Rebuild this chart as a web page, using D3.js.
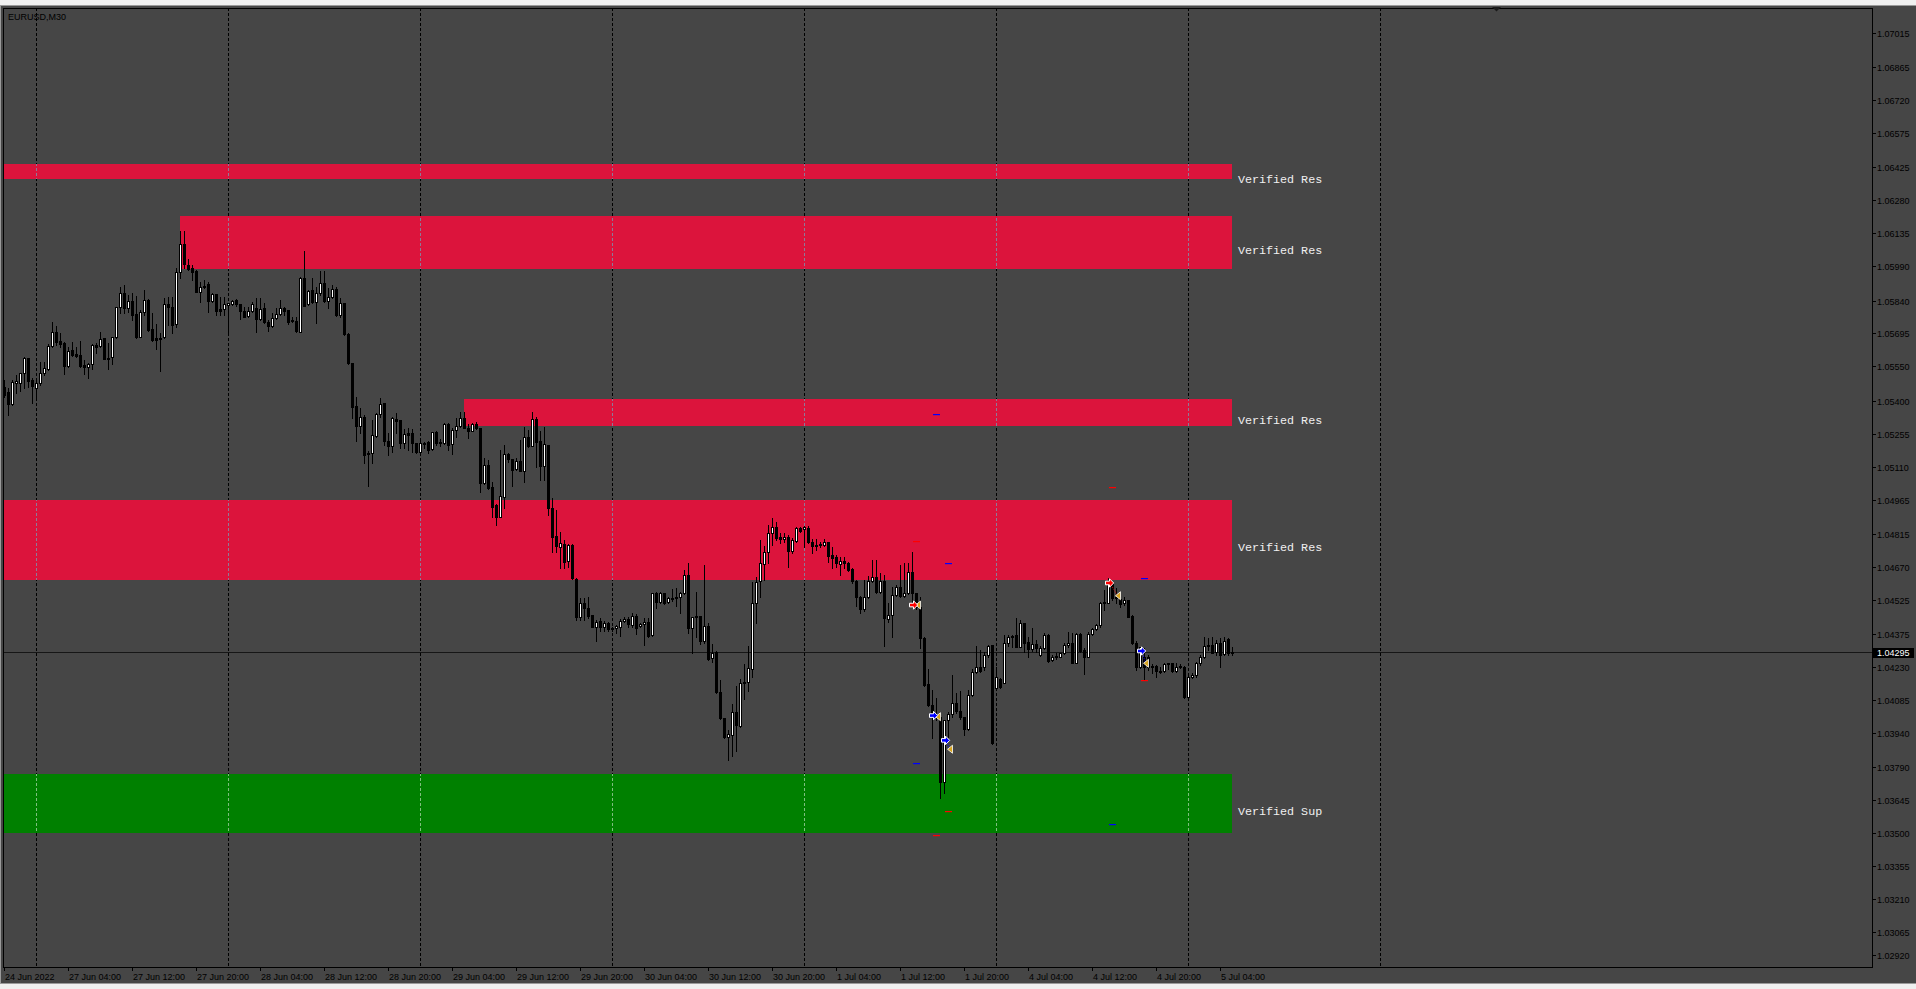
<!DOCTYPE html>
<html>
<head>
<meta charset="utf-8">
<script src="https://cdn.jsdelivr.net/npm/d3@7"></script>
<style>
  body { margin: 0; background: #f0f0f0; overflow: hidden; }
</style>
</head>
<body>
<div id="chart"></div>
<script>
// EURUSD M30 candles, 24 Jun 2022 20:00 -> 5 Jul 2022 05:30 (one value per bar)
const opens = [
  1.05461, 1.05439, 1.05385, 1.05479, 1.05479, 1.05523, 1.05586, 1.05491, 1.05454, 1.05476,
  1.05520, 1.05539, 1.05641, 1.05700, 1.05662, 1.05652, 1.05554, 1.05622, 1.05605, 1.05600,
  1.05556, 1.05546, 1.05559, 1.05644, 1.05641, 1.05677, 1.05587, 1.05590, 1.05678, 1.05810,
  1.05872, 1.05806, 1.05838, 1.05779, 1.05681, 1.05791, 1.05842, 1.05715, 1.05677, 1.05677,
  1.05678, 1.05823, 1.05810, 1.05735, 1.05964, 1.06089, 1.05996, 1.05982, 1.05970, 1.05879,
  1.05898, 1.05911, 1.05839, 1.05867, 1.05803, 1.05801, 1.05820, 1.05823, 1.05842, 1.05823,
  1.05794, 1.05772, 1.05794, 1.05806, 1.05757, 1.05806, 1.05747, 1.05729, 1.05762, 1.05781,
  1.05806, 1.05798, 1.05754, 1.05750, 1.05703, 1.05938, 1.05823, 1.05886, 1.05835, 1.05872,
  1.05916, 1.05839, 1.05857, 1.05889, 1.05776, 1.05828, 1.05691, 1.05564, 1.05376, 1.05290,
  1.05329, 1.05171, 1.05168, 1.05246, 1.05340, 1.05391, 1.05222, 1.05202, 1.05319, 1.05315,
  1.05215, 1.05259, 1.05256, 1.05212, 1.05172, 1.05208, 1.05219, 1.05186, 1.05260, 1.05215,
  1.05215, 1.05296, 1.05208, 1.05271, 1.05290, 1.05322, 1.05281, 1.05268, 1.05296, 1.05278,
  1.05039, 1.05117, 1.05019, 1.04941, 1.04889, 1.04977, 1.05165, 1.05145, 1.05098, 1.05134,
  1.05092, 1.05238, 1.05202, 1.05318, 1.05222, 1.05114, 1.05204, 1.04926, 1.04805, 1.04758,
  1.04768, 1.04696, 1.04765, 1.04614, 1.04450, 1.04508, 1.04486, 1.04457, 1.04406, 1.04431,
  1.04403, 1.04421, 1.04400, 1.04399, 1.04403, 1.04431, 1.04440, 1.04413, 1.04453, 1.04409,
  1.04416, 1.04425, 1.04369, 1.04552, 1.04516, 1.04552, 1.04513, 1.04534, 1.04530, 1.04535,
  1.04552, 1.04633, 1.04399, 1.04453, 1.04453, 1.04344, 1.04409, 1.04267, 1.04293, 1.04120,
  1.04003, 1.03922, 1.03930, 1.04032, 1.03971, 1.04157, 1.04164, 1.04220, 1.04508, 1.04608,
  1.04681, 1.04733, 1.04819, 1.04846, 1.04799, 1.04791, 1.04802, 1.04739, 1.04784, 1.04838,
  1.04834, 1.04838, 1.04780, 1.04765, 1.04764, 1.04765, 1.04777, 1.04721, 1.04711, 1.04680,
  1.04695, 1.04684, 1.04660, 1.04608, 1.04538, 1.04482, 1.04535, 1.04608, 1.04626, 1.04560,
  1.04608, 1.04440, 1.04457, 1.04545, 1.04582, 1.04541, 1.04553, 1.04648, 1.04553, 1.04494,
  1.04355, 1.04152, 1.04062, 1.04018, 1.04010, 1.03724, 1.03996, 1.04022, 1.04069, 1.04037,
  1.04007, 1.03955, 1.04105, 1.04208, 1.04230, 1.04230, 1.04281, 1.04325, 1.04135, 1.04174,
  1.04160, 1.04333, 1.04359, 1.04369, 1.04318, 1.04421, 1.04340, 1.04306, 1.04328, 1.04281,
  1.04311, 1.04369, 1.04259, 1.04274, 1.04274, 1.04289, 1.04325, 1.04333, 1.04248, 1.04374,
  1.04303, 1.04274, 1.04374, 1.04394, 1.04413, 1.04512, 1.04512, 1.04597, 1.04531, 1.04526,
  1.04509, 1.04523, 1.04453, 1.04333, 1.04230, 1.04271, 1.04274, 1.04234, 1.04234, 1.04213,
  1.04213, 1.04240, 1.04245, 1.04213, 1.04230, 1.04230, 1.04098, 1.04186, 1.04193, 1.04245,
  1.04271, 1.04322, 1.04325, 1.04296, 1.04333, 1.04284, 1.04352, 1.04292
];
const highs = [
  1.05491, 1.05454, 1.05491, 1.05513, 1.05523, 1.05590, 1.05586, 1.05498, 1.05491, 1.05571,
  1.05571, 1.05649, 1.05744, 1.05729, 1.05696, 1.05659, 1.05637, 1.05656, 1.05637, 1.05662,
  1.05578, 1.05564, 1.05649, 1.05652, 1.05700, 1.05677, 1.05652, 1.05681, 1.05810, 1.05901,
  1.05908, 1.05864, 1.05872, 1.05861, 1.05798, 1.05886, 1.05847, 1.05784, 1.05735, 1.05696,
  1.05853, 1.05857, 1.05857, 1.05982, 1.06146, 1.06146, 1.06021, 1.05996, 1.05974, 1.05920,
  1.05930, 1.05923, 1.05872, 1.05867, 1.05857, 1.05857, 1.05828, 1.05842, 1.05847, 1.05823,
  1.05813, 1.05813, 1.05835, 1.05853, 1.05850, 1.05828, 1.05754, 1.05784, 1.05806, 1.05842,
  1.05810, 1.05798, 1.05766, 1.05769, 1.05945, 1.06058, 1.05886, 1.05941, 1.05898, 1.05971,
  1.05971, 1.05894, 1.05908, 1.05898, 1.05850, 1.05831, 1.05696, 1.05567, 1.05417, 1.05366,
  1.05337, 1.05180, 1.05315, 1.05347, 1.05410, 1.05391, 1.05256, 1.05326, 1.05344, 1.05315,
  1.05274, 1.05278, 1.05274, 1.05212, 1.05222, 1.05219, 1.05224, 1.05263, 1.05268, 1.05229,
  1.05303, 1.05300, 1.05281, 1.05322, 1.05351, 1.05351, 1.05296, 1.05303, 1.05307, 1.05281,
  1.05146, 1.05139, 1.05043, 1.04944, 1.05183, 1.05204, 1.05171, 1.05145, 1.05146, 1.05227,
  1.05285, 1.05271, 1.05351, 1.05329, 1.05266, 1.05285, 1.05204, 1.04970, 1.04919, 1.04824,
  1.04787, 1.04769, 1.04769, 1.04618, 1.04530, 1.04530, 1.04535, 1.04457, 1.04435, 1.04442,
  1.04431, 1.04428, 1.04406, 1.04413, 1.04438, 1.04450, 1.04450, 1.04465, 1.04462, 1.04423,
  1.04442, 1.04442, 1.04555, 1.04560, 1.04560, 1.04555, 1.04535, 1.04570, 1.04574, 1.04560,
  1.04655, 1.04684, 1.04450, 1.04560, 1.04453, 1.04676, 1.04423, 1.04330, 1.04300, 1.04171,
  1.04003, 1.03952, 1.04064, 1.04145, 1.04174, 1.04242, 1.04321, 1.04604, 1.04626, 1.04787,
  1.04761, 1.04853, 1.04882, 1.04868, 1.04819, 1.04816, 1.04809, 1.04794, 1.04843, 1.04843,
  1.04849, 1.04849, 1.04790, 1.04790, 1.04780, 1.04790, 1.04780, 1.04758, 1.04721, 1.04714,
  1.04714, 1.04692, 1.04662, 1.04611, 1.04541, 1.04611, 1.04629, 1.04699, 1.04699, 1.04640,
  1.04633, 1.04509, 1.04582, 1.04589, 1.04677, 1.04684, 1.04684, 1.04736, 1.04555, 1.04538,
  1.04359, 1.04218, 1.04127, 1.04091, 1.04018, 1.03996, 1.04032, 1.04193, 1.04113, 1.04125,
  1.04007, 1.04127, 1.04218, 1.04321, 1.04303, 1.04296, 1.04325, 1.04325, 1.04230, 1.04179,
  1.04369, 1.04369, 1.04369, 1.04443, 1.04435, 1.04424, 1.04359, 1.04399, 1.04347, 1.04321,
  1.04377, 1.04374, 1.04281, 1.04289, 1.04292, 1.04333, 1.04384, 1.04377, 1.04377, 1.04377,
  1.04311, 1.04384, 1.04399, 1.04418, 1.04516, 1.04567, 1.04619, 1.04597, 1.04575, 1.04538,
  1.04538, 1.04523, 1.04457, 1.04344, 1.04318, 1.04311, 1.04281, 1.04242, 1.04237, 1.04230,
  1.04245, 1.04248, 1.04248, 1.04245, 1.04242, 1.04233, 1.04193, 1.04204, 1.04252, 1.04281,
  1.04362, 1.04355, 1.04359, 1.04347, 1.04355, 1.04359, 1.04355, 1.04318
];
const lows = [
  1.05417, 1.05337, 1.05381, 1.05432, 1.05444, 1.05454, 1.05461, 1.05391, 1.05403, 1.05469,
  1.05513, 1.05534, 1.05637, 1.05644, 1.05637, 1.05517, 1.05549, 1.05598, 1.05593, 1.05549,
  1.05517, 1.05498, 1.05539, 1.05608, 1.05637, 1.05581, 1.05539, 1.05559, 1.05674, 1.05784,
  1.05784, 1.05791, 1.05754, 1.05674, 1.05678, 1.05776, 1.05707, 1.05663, 1.05627, 1.05532,
  1.05674, 1.05732, 1.05696, 1.05725, 1.05938, 1.05984, 1.05974, 1.05930, 1.05876, 1.05835,
  1.05894, 1.05791, 1.05835, 1.05776, 1.05776, 1.05776, 1.05691, 1.05820, 1.05816, 1.05759,
  1.05766, 1.05769, 1.05791, 1.05700, 1.05754, 1.05740, 1.05707, 1.05725, 1.05759, 1.05776,
  1.05776, 1.05737, 1.05747, 1.05702, 1.05700, 1.05816, 1.05820, 1.05828, 1.05740, 1.05864,
  1.05835, 1.05806, 1.05850, 1.05773, 1.05769, 1.05688, 1.05561, 1.05322, 1.05224, 1.05256,
  1.05124, 1.05024, 1.05127, 1.05241, 1.05329, 1.05204, 1.05161, 1.05175, 1.05256, 1.05190,
  1.05190, 1.05183, 1.05175, 1.05171, 1.05168, 1.05190, 1.05171, 1.05183, 1.05204, 1.05200,
  1.05208, 1.05183, 1.05165, 1.05241, 1.05285, 1.05278, 1.05237, 1.05266, 1.05274, 1.04999,
  1.05033, 1.05011, 1.04889, 1.04853, 1.04887, 1.04926, 1.05131, 1.05024, 1.05095, 1.05092,
  1.05043, 1.05197, 1.05200, 1.05109, 1.05051, 1.05051, 1.04897, 1.04735, 1.04735, 1.04662,
  1.04662, 1.04667, 1.04614, 1.04435, 1.04435, 1.04435, 1.04445, 1.04403, 1.04344, 1.04388,
  1.04388, 1.04388, 1.04388, 1.04379, 1.04365, 1.04428, 1.04403, 1.04403, 1.04374, 1.04406,
  1.04325, 1.04362, 1.04366, 1.04486, 1.04508, 1.04506, 1.04508, 1.04520, 1.04497, 1.04467,
  1.04549, 1.04379, 1.04292, 1.04362, 1.04330, 1.04333, 1.04260, 1.04252, 1.04116, 1.03998,
  1.03915, 1.03819, 1.03837, 1.03861, 1.03966, 1.04089, 1.04124, 1.04186, 1.04424, 1.04535,
  1.04611, 1.04687, 1.04765, 1.04787, 1.04775, 1.04780, 1.04670, 1.04728, 1.04780, 1.04824,
  1.04755, 1.04775, 1.04731, 1.04743, 1.04758, 1.04761, 1.04692, 1.04662, 1.04667, 1.04633,
  1.04662, 1.04652, 1.04599, 1.04497, 1.04468, 1.04476, 1.04530, 1.04604, 1.04555, 1.04555,
  1.04321, 1.04428, 1.04362, 1.04541, 1.04538, 1.04538, 1.04550, 1.04509, 1.04482, 1.04311,
  1.04147, 1.04059, 1.03915, 1.03996, 1.03651, 1.03676, 1.03922, 1.04010, 1.04025, 1.03999,
  1.03930, 1.03952, 1.04101, 1.04201, 1.04208, 1.04215, 1.04274, 1.03890, 1.04130, 1.04135,
  1.04157, 1.04321, 1.04318, 1.04315, 1.04315, 1.04296, 1.04274, 1.04300, 1.04296, 1.04277,
  1.04306, 1.04252, 1.04255, 1.04262, 1.04271, 1.04284, 1.04318, 1.04245, 1.04245, 1.04296,
  1.04198, 1.04271, 1.04369, 1.04391, 1.04406, 1.04479, 1.04509, 1.04523, 1.04509, 1.04494,
  1.04501, 1.04447, 1.04330, 1.04215, 1.04223, 1.04174, 1.04215, 1.04201, 1.04186, 1.04204,
  1.04208, 1.04218, 1.04208, 1.04208, 1.04223, 1.04091, 1.04095, 1.04179, 1.04183, 1.04237,
  1.04267, 1.04303, 1.04289, 1.04281, 1.04230, 1.04281, 1.04281, 1.04281
];
const closes = [
  1.05425, 1.05385, 1.05483, 1.05486, 1.05523, 1.05586, 1.05488, 1.05464, 1.05479, 1.05520,
  1.05542, 1.05641, 1.05700, 1.05659, 1.05649, 1.05554, 1.05619, 1.05600, 1.05596, 1.05554,
  1.05549, 1.05559, 1.05644, 1.05637, 1.05669, 1.05583, 1.05581, 1.05678, 1.05810, 1.05872,
  1.05806, 1.05838, 1.05776, 1.05681, 1.05791, 1.05842, 1.05710, 1.05666, 1.05666, 1.05669,
  1.05823, 1.05810, 1.05732, 1.05964, 1.06087, 1.05999, 1.05979, 1.05967, 1.05879, 1.05898,
  1.05905, 1.05838, 1.05867, 1.05795, 1.05795, 1.05823, 1.05828, 1.05838, 1.05823, 1.05794,
  1.05769, 1.05794, 1.05823, 1.05757, 1.05803, 1.05744, 1.05729, 1.05762, 1.05781, 1.05806,
  1.05794, 1.05747, 1.05750, 1.05706, 1.05941, 1.05816, 1.05882, 1.05835, 1.05872, 1.05916,
  1.05839, 1.05857, 1.05889, 1.05776, 1.05828, 1.05691, 1.05564, 1.05373, 1.05288, 1.05329,
  1.05161, 1.05165, 1.05249, 1.05340, 1.05385, 1.05222, 1.05202, 1.05322, 1.05312, 1.05215,
  1.05253, 1.05249, 1.05212, 1.05175, 1.05212, 1.05212, 1.05183, 1.05260, 1.05212, 1.05219,
  1.05296, 1.05204, 1.05271, 1.05290, 1.05322, 1.05281, 1.05268, 1.05296, 1.05278, 1.05036,
  1.05117, 1.05014, 1.04933, 1.04887, 1.04980, 1.05165, 1.05143, 1.05095, 1.05134, 1.05092,
  1.05238, 1.05202, 1.05318, 1.05219, 1.05112, 1.05208, 1.04926, 1.04802, 1.04762, 1.04772,
  1.04692, 1.04765, 1.04618, 1.04450, 1.04508, 1.04486, 1.04453, 1.04406, 1.04428, 1.04403,
  1.04421, 1.04396, 1.04394, 1.04409, 1.04431, 1.04440, 1.04416, 1.04453, 1.04401, 1.04416,
  1.04425, 1.04366, 1.04552, 1.04516, 1.04552, 1.04508, 1.04530, 1.04528, 1.04535, 1.04552,
  1.04633, 1.04402, 1.04447, 1.04447, 1.04344, 1.04409, 1.04264, 1.04289, 1.04120, 1.04003,
  1.03922, 1.03934, 1.04032, 1.03973, 1.04157, 1.04164, 1.04223, 1.04508, 1.04604, 1.04684,
  1.04733, 1.04819, 1.04846, 1.04797, 1.04791, 1.04802, 1.04739, 1.04787, 1.04838, 1.04828,
  1.04846, 1.04780, 1.04761, 1.04762, 1.04768, 1.04777, 1.04718, 1.04709, 1.04684, 1.04695,
  1.04684, 1.04655, 1.04608, 1.04538, 1.04482, 1.04535, 1.04608, 1.04626, 1.04560, 1.04608,
  1.04443, 1.04457, 1.04545, 1.04582, 1.04541, 1.04553, 1.04648, 1.04553, 1.04494, 1.04355,
  1.04149, 1.04062, 1.04018, 1.04010, 1.03724, 1.03996, 1.04022, 1.04069, 1.04037, 1.04007,
  1.03955, 1.04105, 1.04208, 1.04230, 1.04213, 1.04281, 1.04321, 1.03893, 1.04183, 1.04142,
  1.04333, 1.04362, 1.04366, 1.04318, 1.04421, 1.04336, 1.04306, 1.04328, 1.04314, 1.04311,
  1.04369, 1.04256, 1.04274, 1.04278, 1.04289, 1.04325, 1.04333, 1.04248, 1.04374, 1.04300,
  1.04274, 1.04374, 1.04394, 1.04413, 1.04512, 1.04516, 1.04597, 1.04531, 1.04538, 1.04506,
  1.04523, 1.04450, 1.04333, 1.04230, 1.04315, 1.04230, 1.04230, 1.04227, 1.04213, 1.04208,
  1.04240, 1.04245, 1.04213, 1.04230, 1.04233, 1.04095, 1.04186, 1.04193, 1.04245, 1.04271,
  1.04322, 1.04325, 1.04292, 1.04333, 1.04281, 1.04344, 1.04289, 1.04295
];

// time axis labels and the bar they sit on
const timeLabels = ["24 Jun 2022", "27 Jun 04:00", "27 Jun 12:00", "27 Jun 20:00", "28 Jun 04:00",
  "28 Jun 12:00", "28 Jun 20:00", "29 Jun 04:00", "29 Jun 12:00", "29 Jun 20:00", "30 Jun 04:00",
  "30 Jun 12:00", "30 Jun 20:00", "1 Jul 04:00", "1 Jul 12:00", "1 Jul 20:00", "4 Jul 04:00",
  "4 Jul 12:00", "4 Jul 20:00", "5 Jul 04:00"];
const timeLabelBars = [0, 16, 32, 48, 64, 80, 96, 112, 128, 144, 160, 176, 192, 208, 224, 240, 256, 272, 288, 304];
// day separators (00:00 bars), last one is in the empty right part
const gridBars = [8, 56, 104, 152, 200, 248, 296, 344];

// price axis labels
const priceLabels = [1.07015, 1.06865, 1.06720, 1.06575, 1.06425, 1.06280, 1.06135, 1.05990, 1.05840,
  1.05695, 1.05550, 1.05400, 1.05255, 1.05110, 1.04965, 1.04815, 1.04670, 1.04525, 1.04375, 1.04230,
  1.04085, 1.03940, 1.03790, 1.03645, 1.03500, 1.03355, 1.03210, 1.03065, 1.02920];
const priceMin = 1.029095, priceMax = 1.071262;
const barsOnScreen = 467;

// supply / demand zones
const zoneNames = ["Verified Res", "Verified Res", "Verified Res", "Verified Res", "Verified Sup"];
const zoneKinds = ["res", "res", "res", "res", "sup"];
const zoneHigh = [1.06440, 1.06212, 1.05407, 1.04963, 1.03758];
const zoneLow = [1.06374, 1.05979, 1.05290, 1.04613, 1.03499];
const zoneStartBar = [-20, 44, 115, -20, -20];

// closed trades: open arrow, close triangle
const tradeSide = ["sell", "buy", "buy", "sell", "buy"];
const tradeOpenBar = [227, 232, 235, 276, 284];
const tradeOpenPrice = [1.04501, 1.04015, 1.03906, 1.04598, 1.04299];
const tradeCloseBar = [227, 232, 235, 277, 284];
const tradeClosePrice = [1.04501, 1.04010, 1.03867, 1.04542, 1.04245];

// stop / target marks of the trades
const levelBar = [228, 236, 228, 236, 233, 233, 277, 277, 285, 285];
const levelPrice = [1.04781, 1.04686, 1.03805, 1.03594, 1.03490, 1.05340, 1.03537, 1.05019, 1.04619, 1.04170];
const levelSide = ["sell", "buy", "buy", "sell", "sell", "buy", "buy", "sell", "buy", "sell"];

const symbolTitle = "EURUSD,M30";

//////////////// layout ////////////////
const W = 1916, H = 989;
const plot = { left: 3, top: 8, right: 1872, bottom: 967 };
const sansFont = "'Liberation Sans', Arial, sans-serif";
const bg = "#464646";

const svg = d3.select("#chart").append("svg")
  .attr("width", W).attr("height", H)
  .style("display", "block");

// window frame + chart background
svg.append("rect").attr("x", 0).attr("y", 0).attr("width", W).attr("height", H).attr("fill", "#f0f0f0");
svg.append("rect").attr("x", 0).attr("y", 5).attr("width", W).attr("height", 979).attr("fill", "#9a9a9a");
svg.append("rect").attr("x", 1).attr("y", 6).attr("width", W - 1).attr("height", 977).attr("fill", bg);

const xS = d3.scaleLinear().domain([0, barsOnScreen]).range([4, plot.right]);
const yS = d3.scaleLinear().domain([priceMin, priceMax]).range([plot.bottom, plot.top]);
const px = (i) => Math.round(xS(i)) + 0.5;
const py = (p) => Math.round(yS(p));

svg.append("clipPath").attr("id", "plotClip")
  .append("rect")
  .attr("x", plot.left).attr("y", plot.top)
  .attr("width", plot.right - plot.left).attr("height", plot.bottom - plot.top);

const plotG = svg.append("g").attr("clip-path", "url(#plotClip)");

const candles = opens.map((o, i) => ({ i: i, o: o, h: highs[i], l: lows[i], c: closes[i] }));
const lastBar = candles.length - 1;

const zones = zoneNames.map((name, k) => ({
  name: name, kind: zoneKinds[k], hi: zoneHigh[k], lo: zoneLow[k], start: zoneStartBar[k]
}));
const zoneFill = { res: "#DC143C", sup: "#008000" };
const zoneGrid = { res: "#8f7a96", sup: "#7fc07f" };

//zones
plotG.append("g").attr("shape-rendering", "crispEdges")
  .selectAll("rect").data(zones).join("rect")
  .attr("x", (d) => Math.max(plot.left, Math.round(xS(d.start))))
  .attr("y", (d) => py(d.hi))
  .attr("width", (d) => Math.round(xS(lastBar)) - Math.max(plot.left, Math.round(xS(d.start))))
  .attr("height", (d) => py(d.lo) - py(d.hi))
  .attr("fill", (d) => zoneFill[d.kind]);

//vertical grid (dashed), lighter where it crosses a zone
const gridG = plotG.append("g").attr("shape-rendering", "crispEdges");
gridG.selectAll("line.grid").data(gridBars).join("line")
  .attr("class", "grid")
  .attr("x1", (d) => px(d)).attr("x2", (d) => px(d))
  .attr("y1", plot.top).attr("y2", plot.bottom)
  .attr("stroke", "#000").attr("stroke-dasharray", "3,2");

const gridInZones = [];
zones.forEach((z) => {
  gridBars.forEach((b) => {
    if (b >= z.start && b <= lastBar) gridInZones.push({ b: b, z: z });
  });
});
gridG.selectAll("line.zgrid").data(gridInZones).join("line")
  .attr("class", "zgrid")
  .attr("x1", (d) => px(d.b)).attr("x2", (d) => px(d.b))
  .attr("y1", (d) => py(d.z.hi)).attr("y2", (d) => py(d.z.lo))
  .attr("stroke", (d) => zoneGrid[d.z.kind])
  .attr("stroke-dasharray", "3,2")
  .attr("stroke-dashoffset", (d) => (py(d.z.hi) - plot.top) % 5);

//bid line
const lastClose = closes[lastBar];
plotG.append("line")
  .attr("x1", plot.left).attr("x2", plot.right)
  .attr("y1", py(lastClose) + 0.5).attr("y2", py(lastClose) + 0.5)
  .attr("stroke", "#161616");

//candles
const candleG = plotG.append("g").attr("shape-rendering", "crispEdges");
candleG.selectAll("line").data(candles).join("line")
  .attr("x1", (d) => px(d.i)).attr("x2", (d) => px(d.i))
  .attr("y1", (d) => py(d.h)).attr("y2", (d) => py(d.l) + 1)
  .attr("stroke", "#000");

const isBull = (d) => py(d.c) < py(d.o);
candleG.selectAll("rect.bear").data(candles.filter((d) => !isBull(d))).join("rect")
  .attr("class", "bear")
  .attr("x", (d) => px(d.i) - 1.5).attr("width", 3)
  .attr("y", (d) => py(d.o))
  .attr("height", (d) => Math.max(1, py(d.c) - py(d.o) + 1))
  .attr("fill", "#000");
candleG.selectAll("rect.bull").data(candles.filter(isBull)).join("rect")
  .attr("class", "bull")
  .attr("x", (d) => px(d.i) - 1).attr("width", 2)
  .attr("y", (d) => py(d.c) + 0.5)
  .attr("height", (d) => py(d.o) - py(d.c))
  .attr("fill", "#fff").attr("stroke", "#000");

//trade marks
const sideColor = { buy: "#0000FF", sell: "#FF0000" };
const trades = tradeSide.map((s, k) => ({
  side: s, ob: tradeOpenBar[k], op: tradeOpenPrice[k], cb: tradeCloseBar[k], cp: tradeClosePrice[k]
}));
const levels = levelBar.map((b, k) => ({ b: b, p: levelPrice[k], side: levelSide[k] }));

const markG = plotG.append("g");
markG.selectAll("rect.level").data(levels).join("rect")
  .attr("class", "level")
  .attr("x", (d) => Math.round(xS(d.b)) - 3).attr("width", 7)
  .attr("y", (d) => py(d.p)).attr("height", 1.2)
  .attr("fill", (d) => sideColor[d.side]);

markG.selectAll("line.tline").data(trades).join("line")
  .attr("class", "tline")
  .attr("x1", (d) => xS(d.ob) + 2).attr("y1", (d) => yS(d.op))
  .attr("x2", (d) => xS(d.cb) + 5.5).attr("y2", (d) => yS(d.cp))
  .attr("stroke", (d) => sideColor[d.side])
  .attr("stroke-dasharray", "1,1.5");

markG.selectAll("path.close").data(trades).join("path")
  .attr("class", "close")
  .attr("transform", (d) => "translate(" + (xS(d.cb) + 6) + "," + yS(d.cp) + ")")
  .attr("d", "M-2.5,0 L2.5,-4 L2.5,4 Z")
  .attr("fill", "#DAA520").attr("stroke", "#fff").attr("stroke-width", 0.8);

markG.selectAll("path.open").data(trades).join("path")
  .attr("class", "open")
  .attr("transform", (d) => "translate(" + (xS(d.ob) + 1.5) + "," + yS(d.op) + ")")
  .attr("d", "M-4,-1.8 L0,-1.8 L0,-4.2 L4.2,0 L0,4.2 L0,1.8 L-4,1.8 Z")
  .attr("fill", (d) => sideColor[d.side]).attr("stroke", "#fff").attr("stroke-width", 1);

//zone labels
svg.append("g").selectAll("text").data(zones).join("text")
  .attr("x", Math.round(xS(lastBar)) + 6)
  .attr("y", (d) => (py(d.hi) + py(d.lo)) / 2 + 11)
  .text((d) => d.name)
  .style("font-family", "'Liberation Mono', 'Courier New', monospace")
  .style("font-size", "11.7px")
  .attr("fill", "#f0f0f0");

//frame lines
svg.append("rect")
  .attr("x", plot.left + 0.5).attr("y", plot.top + 0.5)
  .attr("width", plot.right - plot.left).attr("height", plot.bottom - plot.top)
  .attr("fill", "none").attr("stroke", "#000")
  .attr("shape-rendering", "crispEdges");

//price axis
const yAxisG = svg.append("g").attr("shape-rendering", "crispEdges");
const labelY = (p) => Math.min(yS(p), plot.bottom - 12);
yAxisG.selectAll("line").data(priceLabels).join("line")
  .attr("x1", plot.right).attr("x2", plot.right + 4)
  .attr("y1", (d) => Math.round(labelY(d)) + 0.5).attr("y2", (d) => Math.round(labelY(d)) + 0.5)
  .attr("stroke", "#000");
yAxisG.selectAll("text").data(priceLabels).join("text")
  .attr("x", plot.right + 5)
  .attr("y", (d) => Math.round(labelY(d)) + 3.5)
  .text((d) => d3.format(".5f")(d))
  .style("font-family", sansFont).style("font-size", "9px")
  .attr("fill", "#000");

//current price box
svg.append("rect")
  .attr("x", plot.right + 1).attr("y", py(lastClose) - 4)
  .attr("width", 41).attr("height", 10)
  .attr("fill", "#000");
svg.append("text")
  .attr("x", plot.right + 5).attr("y", py(lastClose) + 4)
  .text(d3.format(".5f")(lastClose))
  .style("font-family", sansFont).style("font-size", "9px")
  .attr("fill", "#fff");

//time axis
const timeTicks = timeLabels.map((t, k) => ({ t: t, b: timeLabelBars[k] }));
const xAxisG = svg.append("g").attr("shape-rendering", "crispEdges");
xAxisG.selectAll("line").data(timeTicks).join("line")
  .attr("x1", (d) => px(d.b)).attr("x2", (d) => px(d.b))
  .attr("y1", plot.bottom).attr("y2", plot.bottom + 4)
  .attr("stroke", "#000");
xAxisG.selectAll("text").data(timeTicks).join("text")
  .attr("x", (d) => Math.round(xS(d.b)) + 1)
  .attr("y", plot.bottom + 13)
  .text((d) => d.t)
  .style("font-family", sansFont).style("font-size", "9px")
  .attr("fill", "#000");

//chart shift marker
svg.append("path")
  .attr("d", "M1492,7 L1501,7 L1496.5,11.5 Z")
  .attr("fill", "#1a1a1a");

//title
svg.append("text")
  .attr("x", 8).attr("y", 20)
  .text(symbolTitle)
  .style("font-family", sansFont).style("font-size", "9px")
  .attr("fill", "#000");
</script>
</body>
</html>
